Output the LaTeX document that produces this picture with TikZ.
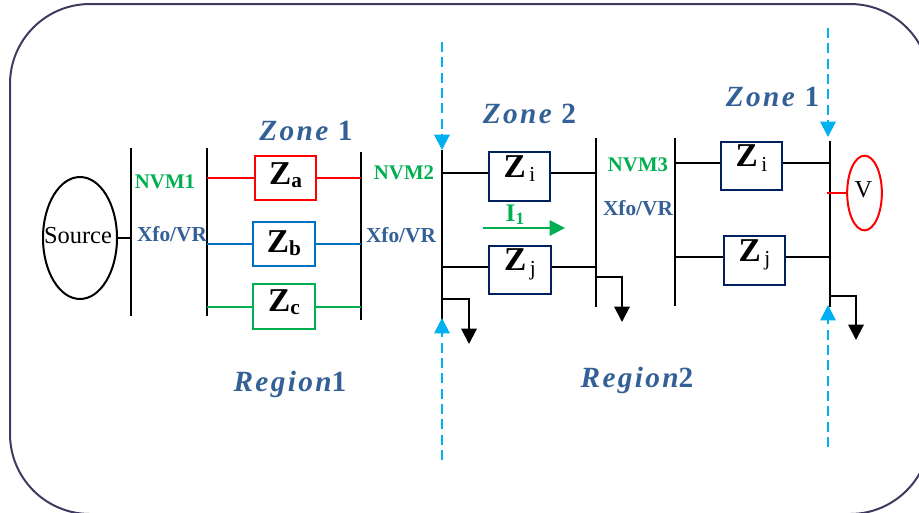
\documentclass[tikz,border=0pt]{standalone}
\usepackage{fontspec}
\setmainfont{Liberation Serif}
\newfontfamily\zonefont[LetterSpace=8]{Liberation Serif}
\usetikzlibrary{arrows.meta, shapes.geometric}
\definecolor{framecol}{RGB}{64,58,96}
\definecolor{labelblue}{RGB}{51,96,150}
\definecolor{nvmgreen}{RGB}{0,176,80}
\definecolor{cutblue}{RGB}{0,176,240}
\definecolor{boxblue}{RGB}{0,112,192}
\definecolor{boxnavy}{RGB}{0,32,96}
\newcommand{\zbold}[1]{{\fontsize{25}{25}\selectfont\bfseries Z}{\fontsize{16}{16}\selectfont\bfseries\raisebox{-2.2pt}{#1}}}
\newcommand{\zthin}[1]{{\fontsize{25}{25}\selectfont\bfseries Z}{\fontsize{16}{16}\selectfont\,\raisebox{-3.5pt}{#1}}}
\newcommand{\zonetext}[2]{\zonefont\fontsize{22}{22}\selectfont\bfseries{\itshape #1}#2}
\tikzset{
  busbar/.style={line width=1.5pt},
  feeder/.style={line width=1.5pt},
  zbox/.style={draw, line width=1.5pt, fill=white, inner sep=0pt, minimum width=46pt, minimum height=36.5pt, text depth=15.5pt},
  nvmtext/.style={inner sep=0.75pt, text=nvmgreen, font=\fontsize{15.6}{15.6}\selectfont\bfseries},
  xfotext/.style={inner sep=0.75pt, text=labelblue, font=\fontsize{16}{16}\selectfont\bfseries},
  zonetxt/.style={inner sep=0.75pt, text=labelblue},
  cutline/.style={draw=cutblue, line width=1.5pt, dash pattern=on 7.5pt off 4pt, -{Triangle[width=11.5pt,length=11.5pt]}},
  loadline/.style={line width=1.5pt, -{Triangle[width=11.5pt,length=11.5pt]}}
}

\begin{document}
\begin{tikzpicture}[x=0.75pt,y=0.75pt,yscale=-1,xscale=1]
\clip (0,0) rectangle (919,512);

%Shape: Frame
\draw [color=framecol, line width=1.5pt, rounded corners=60pt] (10,4) rectangle (930,514);

%Shape: Ellipse Source
\draw (80,238) node (src) [ellipse, draw, line width=1.5pt, inner sep=0pt, minimum width=55.5pt, minimum height=91.5pt] {};
\draw (78,236) node (srctxt) [inner sep=0.75pt] {\fontsize{18.3}{18.3}\selectfont Source};
%Shape: Ellipse V
\draw (864.5,193) node (volt) [ellipse, draw=red, line width=1.5pt, inner sep=0pt, minimum width=26pt, minimum height=56pt] {};
\draw (863.5,190) node (volttxt) [inner sep=0.75pt] {\fontsize{18.3}{18.3}\selectfont V};

%Coordinates of the bus bars
\coordinate (busA1) at (131,148);  \coordinate (busA2) at (131,316);
\coordinate (busB1) at (207,148);  \coordinate (busB2) at (207,316);
\coordinate (busC1) at (361,152);  \coordinate (busC2) at (361,320);
\coordinate (busD1) at (442,150);  \coordinate (busD2) at (442,320);
\coordinate (busE1) at (596,138);  \coordinate (busE2) at (596,307);
\coordinate (busF1) at (675,138);  \coordinate (busF2) at (675,306);
\coordinate (busG1) at (830,141);  \coordinate (busG2) at (830,307);

%Straight Lines: bus bars
\foreach \b in {A,B,C,D,E,F,G}
  \draw [busbar] (bus\b1) -- (bus\b2);

%Shape: Impedance boxes
\draw (285.5,178) node (za) [zbox, draw=red, minimum height=33pt, text depth=6pt] {\zbold{a}};
\draw (284,244) node (zb) [zbox, draw=boxblue, minimum height=33pt, text depth=3.5pt] {\zbold{b}};
\draw (284,306.5) node (zc) [zbox, draw=nvmgreen, minimum height=33.5pt, text depth=9pt] {\zbold{c}};
\draw (519.5,176.5) node (zia) [zbox, draw=boxnavy] {\zthin{i}};
\draw (520,270) node (zja) [zbox, draw=boxnavy] {\zthin{j}};
\draw (751.5,166) node (zib) [zbox, draw=boxnavy] {\zthin{i}};
\draw (754.5,260.5) node (zjb) [zbox, draw=boxnavy] {\zthin{j}};

%Straight Lines: feeders
\draw [feeder] (src.east) -- (src.east -| busA1);
\draw [feeder, red] (za.west) -- (za.west -| busB1);
\draw [feeder, red] (za.east) -- (za.east -| busC1);
\draw [feeder, boxblue] (zb.west) -- (zb.west -| busB1);
\draw [feeder, boxblue] (zb.east) -- (zb.east -| busC1);
\draw [feeder, nvmgreen] (zc.west) -- (zc.west -| busB1);
\draw [feeder, nvmgreen] (zc.east) -- (zc.east -| busC1);
\draw [feeder] (zia.174) -- (zia.174 -| busD1);
\draw [feeder] (zia.6) -- (zia.6 -| busE1);
\draw [feeder] (zja.174) -- (zja.174 -| busD1);
\draw [feeder] (zja.6) -- (zja.6 -| busE1);
\draw [feeder] (zib.174) -- (zib.174 -| busF1);
\draw [feeder] (zib.6) -- (zib.6 -| busG1);
\draw [feeder] (zjb.174) -- (zjb.174 -| busF1);
\draw [feeder] (zjb.6) -- (zjb.6 -| busG1);
\coordinate (tapV) at (827,193);
\draw [feeder, red] (volt.west) -- (tapV);

%Straight Lines: loads
\coordinate (loadD1) at (442,299);  \coordinate (loadD2) at (469,344);
\coordinate (loadE1) at (596,277);  \coordinate (loadE2) at (622,322);
\coordinate (loadG1) at (830,295.5);  \coordinate (loadG2) at (856,340);
\draw [loadline] (loadD1) -| (loadD2);
\draw [loadline] (loadE1) -| (loadE2);
\draw [loadline] (loadG1) -| (loadG2);

%Straight Lines: zone cuts
\coordinate (cutD1) at (442,42);  \coordinate (cutD2) at (442,460);
\coordinate (cutG1) at (828,28);  \coordinate (cutG2) at (828,447);
\coordinate (tipD1) at (442,150);  \coordinate (tipD2) at (442,318);
\coordinate (tipG1) at (828,137);  \coordinate (tipG2) at (828,305);
\draw [cutline] (cutD1) -- (tipD1);
\draw [cutline] (cutD2) -- (tipD2);
\draw [cutline] (cutG1) -- (tipG1);
\draw [cutline] (cutG2) -- (tipG2);

%Straight Lines: current
\coordinate (curr1) at (483,228);  \coordinate (curr2) at (565,228);
\draw [line width=1.5pt, nvmgreen, -{Triangle[width=11.5pt,length=11.5pt]}] (curr1) -- (curr2);

% Text Node
\draw (165,182) node (nvmA) [nvmtext] {NVM1};
% Text Node
\draw (404,172.5) node (nvmB) [nvmtext] {NVM2};
% Text Node
\draw (638,165) node (nvmC) [nvmtext] {NVM3};
% Text Node
\draw (172,234) node (xfoA) [xfotext] {Xfo/VR};
% Text Node
\draw (401,235) node (xfoB) [xfotext] {Xfo/VR};
% Text Node
\draw (638,208) node (xfoC) [xfotext] {Xfo/VR};
% Text Node
\draw (515,215) node (curtxt) [inner sep=0.75pt, text=nvmgreen] {\fontsize{19}{19}\selectfont\bfseries I\raisebox{-2.5pt}{\fontsize{13}{13}\selectfont 1}};
% Text Node
\draw (306,131) node (zoneA) [zonetxt] {\zonetext{Zone }{1}};
% Text Node
\draw (529.5,114) node (zoneB) [zonetxt] {\zonetext{Zone }{2}};
% Text Node
\draw (772.5,97) node (zoneC) [zonetxt] {\zonetext{Zone }{1}};
% Text Node
\draw (290,384) node (regA) [zonetxt] {\zonetext{Region}{1}};
% Text Node
\draw (637,380) node (regB) [zonetxt] {\zonetext{Region}{2}};

\end{tikzpicture}
\end{document}
